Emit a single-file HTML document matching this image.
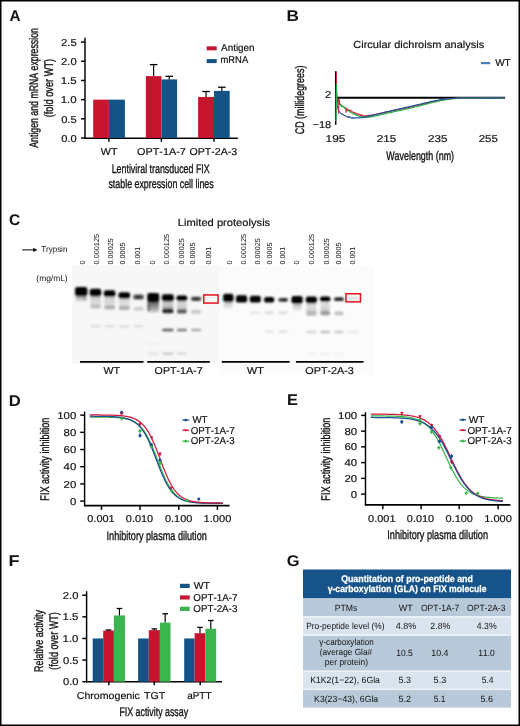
<!DOCTYPE html>
<html><head><meta charset="utf-8"><style>
html,body{margin:0;padding:0;background:#fff;}
svg{display:block;font-family:"Liberation Sans", sans-serif;will-change:transform;}
text{font-kerning:none;text-rendering:geometricPrecision;}
</style></head><body>
<svg width="520" height="726" viewBox="0 0 520 726" font-family='"Liberation Sans", sans-serif' fill="#111">
<defs><filter id="bl" x="-5%" y="-5%" width="110%" height="110%"><feGaussianBlur stdDeviation="0.85"/></filter></defs>
<rect x="0" y="0" width="520" height="726" fill="#fff"/>
<text x="9.62" y="20.5" font-size="15.5" textLength="11.09" lengthAdjust="spacingAndGlyphs" font-weight="bold">A</text>
<line x1="85.00" y1="37.80" x2="85.00" y2="138.60" stroke="#000" stroke-width="1.45"/>
<line x1="81.00" y1="42.10" x2="85.00" y2="42.10" stroke="#000" stroke-width="1.45"/>
<text x="61.03" y="45.9" font-size="10" textLength="15.64" lengthAdjust="spacingAndGlyphs" stroke="#111" stroke-width="0.18">2.5</text>
<line x1="81.00" y1="61.28" x2="85.00" y2="61.28" stroke="#000" stroke-width="1.45"/>
<text x="61.04" y="65.08" font-size="10" textLength="15.60" lengthAdjust="spacingAndGlyphs" stroke="#111" stroke-width="0.18">2.0</text>
<line x1="81.00" y1="80.46" x2="85.00" y2="80.46" stroke="#000" stroke-width="1.45"/>
<text x="60.73" y="84.26" font-size="10" textLength="15.96" lengthAdjust="spacingAndGlyphs" stroke="#111" stroke-width="0.18">1.5</text>
<line x1="81.00" y1="99.64" x2="85.00" y2="99.64" stroke="#000" stroke-width="1.45"/>
<text x="60.73" y="103.44" font-size="10" textLength="15.92" lengthAdjust="spacingAndGlyphs" stroke="#111" stroke-width="0.18">1.0</text>
<line x1="81.00" y1="118.82" x2="85.00" y2="118.82" stroke="#000" stroke-width="1.45"/>
<text x="61.16" y="122.62" font-size="10" textLength="15.50" lengthAdjust="spacingAndGlyphs" stroke="#111" stroke-width="0.18">0.5</text>
<line x1="81.00" y1="138.00" x2="85.00" y2="138.00" stroke="#000" stroke-width="1.45"/>
<text x="61.17" y="141.8" font-size="10" textLength="15.47" lengthAdjust="spacingAndGlyphs" stroke="#111" stroke-width="0.18">0.0</text>
<line x1="84.40" y1="138.20" x2="237.80" y2="138.20" stroke="#000" stroke-width="1.45"/>
<rect x="93.20" y="99.64" width="15.70" height="38.36" fill="#c8152f"/>
<rect x="108.90" y="99.64" width="16.00" height="38.36" fill="#135386"/>
<line x1="108.90" y1="138.00" x2="108.90" y2="141.80" stroke="#000" stroke-width="1.45"/>
<rect x="145.90" y="76.09" width="15.50" height="61.91" fill="#c8152f"/>
<rect x="161.40" y="79.39" width="15.70" height="58.61" fill="#135386"/>
<line x1="153.65" y1="64.60" x2="153.65" y2="76.09" stroke="#000" stroke-width="1.15"/>
<line x1="149.85" y1="64.60" x2="157.45" y2="64.60" stroke="#000" stroke-width="1.3"/>
<line x1="169.25" y1="76.30" x2="169.25" y2="79.39" stroke="#000" stroke-width="1.15"/>
<line x1="165.45" y1="76.30" x2="173.05" y2="76.30" stroke="#000" stroke-width="1.3"/>
<line x1="161.40" y1="138.00" x2="161.40" y2="141.80" stroke="#000" stroke-width="1.45"/>
<rect x="198.10" y="96.92" width="15.90" height="41.08" fill="#c8152f"/>
<rect x="214.00" y="90.89" width="15.70" height="47.11" fill="#135386"/>
<line x1="206.05" y1="91.50" x2="206.05" y2="96.92" stroke="#000" stroke-width="1.15"/>
<line x1="202.25" y1="91.50" x2="209.85" y2="91.50" stroke="#000" stroke-width="1.3"/>
<line x1="221.85" y1="87.20" x2="221.85" y2="90.89" stroke="#000" stroke-width="1.15"/>
<line x1="218.05" y1="87.20" x2="225.65" y2="87.20" stroke="#000" stroke-width="1.3"/>
<line x1="214.00" y1="138.00" x2="214.00" y2="141.80" stroke="#000" stroke-width="1.45"/>
<rect x="206.70" y="46.30" width="10.00" height="4.00" fill="#c8152f"/>
<rect x="206.70" y="59.10" width="10.00" height="4.00" fill="#135386"/>
<text x="221.08" y="51.3" font-size="10" textLength="33.46" lengthAdjust="spacingAndGlyphs" stroke="#111" stroke-width="0.18">Antigen</text>
<text x="220.47" y="63.4" font-size="10" textLength="27.74" lengthAdjust="spacingAndGlyphs" stroke="#111" stroke-width="0.18">mRNA</text>
<text x="100.75" y="154.6" font-size="10" textLength="16.69" lengthAdjust="spacingAndGlyphs" stroke="#111" stroke-width="0.18">WT</text>
<text x="136.99" y="154.6" font-size="10" textLength="48.86" lengthAdjust="spacingAndGlyphs" stroke="#111" stroke-width="0.18">OPT-1A-7</text>
<text x="189.40" y="154.6" font-size="10" textLength="47.87" lengthAdjust="spacingAndGlyphs" stroke="#111" stroke-width="0.18">OPT-2A-3</text>
<text x="111.67" y="172.8" font-size="12.5" textLength="98.01" lengthAdjust="spacingAndGlyphs" stroke="#111" stroke-width="0.35">Lentiviral transduced FIX</text>
<text x="108.45" y="188.2" font-size="12.5" textLength="105.27" lengthAdjust="spacingAndGlyphs" stroke="#111" stroke-width="0.35">stable expression cell lines</text>
<text transform="translate(37.5,147.72) rotate(-90)" font-size="12.5" textLength="119.59" lengthAdjust="spacingAndGlyphs" stroke="#111" stroke-width="0.35">Antigen and mRNA expression</text>
<text transform="translate(52.8,117.37) rotate(-90)" font-size="12.5" textLength="58.55" lengthAdjust="spacingAndGlyphs" stroke="#111" stroke-width="0.35">(fold over WT)</text>
<text x="286.55" y="20.5" font-size="15.5" textLength="12.43" lengthAdjust="spacingAndGlyphs" font-weight="bold">B</text>
<text x="353.24" y="48.3" font-size="10.3" textLength="130.96" lengthAdjust="spacingAndGlyphs" stroke="#111" stroke-width="0.18">Circular dichroism analysis</text>
<line x1="481.00" y1="63.10" x2="490.20" y2="63.10" stroke="#4a7fb5" stroke-width="2.2"/>
<text x="495.16" y="65.9" font-size="10" textLength="15.57" lengthAdjust="spacingAndGlyphs" stroke="#111" stroke-width="0.18">WT</text>
<line x1="335.70" y1="71.20" x2="335.70" y2="124.80" stroke="#000" stroke-width="1.5"/>
<line x1="336.50" y1="97.80" x2="505.10" y2="97.80" stroke="#000" stroke-width="2.0"/>
<text x="325.14" y="97.6" font-size="10" textLength="6.23" lengthAdjust="spacingAndGlyphs" stroke="#111" stroke-width="0.18">2</text>
<text x="312.45" y="127.6" font-size="10" textLength="18.83" lengthAdjust="spacingAndGlyphs" stroke="#111" stroke-width="0.18">−18</text>
<text x="325.60" y="142.2" font-size="10" textLength="19.80" lengthAdjust="spacingAndGlyphs" stroke="#111" stroke-width="0.18">195</text>
<text x="376.71" y="142.2" font-size="10" textLength="19.48" lengthAdjust="spacingAndGlyphs" stroke="#111" stroke-width="0.18">215</text>
<text x="427.91" y="142.2" font-size="10" textLength="19.48" lengthAdjust="spacingAndGlyphs" stroke="#111" stroke-width="0.18">235</text>
<text x="478.72" y="142.2" font-size="10" textLength="19.16" lengthAdjust="spacingAndGlyphs" stroke="#111" stroke-width="0.18">255</text>
<text x="386.16" y="160.0" font-size="12.5" textLength="67.89" lengthAdjust="spacingAndGlyphs" stroke="#111" stroke-width="0.35">Wavelength (nm)</text>
<text transform="translate(304.3,134.25) rotate(-90)" font-size="12.5" textLength="68.60" lengthAdjust="spacingAndGlyphs" stroke="#111" stroke-width="0.35">CD (millidegrees)</text>
<polyline points="337.00,100.07 337.50,99.82 338.00,99.86 338.50,99.15 339.00,101.96 339.50,103.07 340.00,103.89 340.50,104.72 341.00,105.00 341.50,105.16 342.00,106.14 342.50,106.01 343.00,106.32 343.50,106.47 344.00,107.23 344.50,107.35 345.00,107.89 345.50,107.79 346.00,108.34 346.50,108.29 347.00,109.19 347.50,109.27 348.00,109.62 348.50,109.91 349.00,109.67 349.50,110.56 350.00,111.06 350.50,110.40 351.00,110.64 351.50,110.96 352.00,111.81 352.50,111.86 353.00,112.32 353.50,112.46 354.00,112.55 354.50,112.80 355.00,112.91 355.50,113.39 356.00,113.12 356.50,113.48 357.00,113.84 357.50,114.41 358.00,113.96 358.50,114.07 359.00,114.38 359.50,114.95 360.00,114.84 360.50,115.34 361.00,114.66 361.50,115.52 362.00,115.61 362.50,115.11 363.00,115.61 363.50,115.99 364.00,115.82 364.50,116.05 365.00,116.39 365.50,115.87 366.00,115.73 366.50,115.61 367.00,115.96 367.50,115.75 368.00,115.76 368.50,115.69 369.00,115.79 369.50,115.27 370.00,115.27 370.50,115.07 371.00,115.42 371.50,115.20 372.00,115.28 372.50,115.00 373.00,114.81 373.50,114.85 374.00,114.68 374.50,114.44 375.00,114.38 375.50,114.59 376.00,114.32 376.50,114.22 377.00,114.04 377.50,113.89 378.00,113.97 378.50,113.75 379.00,113.57 379.50,113.54 380.00,113.35 380.50,113.38 381.00,113.39 381.50,113.05 382.00,113.22 382.50,112.86 383.00,112.86 383.50,112.64 384.00,112.61 384.50,112.54 385.00,112.38 385.50,112.24 386.00,112.14 386.50,112.02 387.00,111.83 387.50,111.88 388.00,111.86 388.50,111.82 389.00,111.68 389.50,111.80 390.00,111.44 390.50,111.24 391.00,111.41 391.50,110.96 392.00,111.10 392.50,110.76 393.00,110.81 393.50,110.43 394.00,110.67 394.50,110.44 395.00,110.23 395.50,110.45 396.00,110.23 396.50,110.04 397.00,109.84 397.50,109.82 398.00,109.70 398.50,109.70 399.00,109.61 399.50,109.32 400.00,109.23 400.50,109.13 401.00,108.93 401.50,108.91 402.00,108.87 402.50,108.86 403.00,108.83 403.50,108.47 404.00,108.53 404.50,108.30 405.00,108.50 405.50,108.14 406.00,108.10 406.50,107.82 407.00,107.73 407.50,107.75 408.00,107.57 408.50,107.56 409.00,107.22 409.50,107.38 410.00,107.09 410.50,107.29 411.00,106.94 411.50,106.99 412.00,106.57 412.50,106.68 413.00,106.40 413.50,106.34 414.00,106.28 414.50,106.13 415.00,106.08 415.50,106.02 416.00,105.90 416.50,105.69 417.00,105.43 417.50,105.38 418.00,105.34 418.50,104.99 419.00,105.22 419.50,104.99 420.00,104.87 420.50,104.89 421.00,104.73 421.50,104.55 422.00,104.28 422.50,104.31 423.00,104.19 423.50,103.92 424.00,104.03 424.50,103.84 425.00,103.41 425.50,103.54 426.00,103.25 426.50,103.41 427.00,103.25 427.50,102.89 428.00,102.79 428.50,102.79 429.00,102.62 429.50,102.71 430.00,102.49 430.50,102.26 431.00,102.26 431.50,101.84 432.00,102.02 432.50,101.98 433.00,101.75 433.50,101.58 434.00,101.63 434.50,101.69 435.00,101.37 435.50,101.11 436.00,101.31 436.50,100.81 437.00,100.99 437.50,100.76 438.00,100.83 438.50,100.51 439.00,100.67 439.50,100.44 440.00,100.09 440.50,99.98 441.00,100.10 441.50,100.22 442.00,100.00 442.50,99.91 443.00,99.79 443.50,99.83 444.00,99.71 444.50,99.61 445.00,99.38 445.50,99.56 446.00,99.50 446.50,99.10 447.00,99.46 447.50,99.19 448.00,98.96 448.50,98.71 449.00,98.94 449.50,98.85 450.00,98.68 450.50,98.59 451.00,98.67 451.50,98.57 452.00,98.54 452.50,98.64 453.00,98.58 453.50,98.49 454.00,98.40 454.50,98.41 455.00,98.26 455.50,98.32 456.00,98.25 456.50,98.19 457.00,98.15 457.50,98.20 458.00,98.14 458.50,98.11 459.00,98.10 459.50,98.00 460.00,97.95 460.50,97.93 461.00,97.98 461.50,98.02 462.00,97.99 462.50,98.01 463.00,97.94 463.50,97.97 464.00,97.95 464.50,97.93 465.00,98.05 465.50,98.01 466.00,97.94 466.50,97.94 467.00,97.97 467.50,97.91 468.00,97.98 468.50,97.91 469.00,97.95 469.50,97.92 470.00,97.94 470.50,97.90 471.00,97.89 471.50,97.91 472.00,97.92 472.50,97.93 473.00,97.94 473.50,98.00 474.00,97.97 474.50,97.93 475.00,97.96 475.50,97.90 476.00,97.99 476.50,97.95 477.00,97.87 477.50,97.95 478.00,97.95 478.50,97.81 479.00,97.89 479.50,97.89 480.00,97.83 480.50,97.87 481.00,97.87 481.50,97.92 482.00,97.91 482.50,98.01 483.00,97.88 483.50,97.94 484.00,97.90 484.50,97.90 485.00,97.84 485.50,97.81 486.00,97.85 486.50,97.91 487.00,97.94 487.50,97.90 488.00,97.90 488.50,97.84 489.00,97.93 489.50,97.92 490.00,97.85 490.50,97.86 491.00,97.82 491.50,97.92 492.00,97.87 492.50,97.85 493.00,97.87 493.50,97.87 494.00,97.83 494.50,97.80 495.00,97.79 495.50,97.77 496.00,97.86 496.50,97.93 497.00,97.77 497.50,97.84 498.00,97.85 498.50,97.79 499.00,97.83 499.50,97.78 500.00,97.87 500.50,97.80 501.00,97.82 501.50,97.84 502.00,97.80 502.50,97.74 503.00,97.79 503.50,97.84 504.00,97.80 504.50,97.81 505.00,97.76" fill="none" stroke="#d8203f" stroke-width="1.2" stroke-linejoin="round"/>
<polyline points="337.00,102.71 337.50,101.11 338.00,102.15 338.50,101.80 339.00,102.74 339.50,103.72 340.00,103.99 340.50,104.94 341.00,105.05 341.50,106.84 342.00,106.08 342.50,106.26 343.00,106.67 343.50,106.92 344.00,107.16 344.50,107.78 345.00,108.47 345.50,108.58 346.00,109.37 346.50,109.33 347.00,109.78 347.50,110.67 348.00,110.69 348.50,110.64 349.00,111.06 349.50,111.63 350.00,112.23 350.50,112.00 351.00,112.31 351.50,112.94 352.00,112.78 352.50,113.18 353.00,113.72 353.50,113.90 354.00,114.02 354.50,114.42 355.00,113.79 355.50,115.01 356.00,114.76 356.50,114.77 357.00,115.44 357.50,115.74 358.00,115.64 358.50,115.67 359.00,116.13 359.50,116.30 360.00,116.85 360.50,116.77 361.00,116.71 361.50,117.02 362.00,116.77 362.50,116.67 363.00,117.13 363.50,117.21 364.00,117.09 364.50,117.02 365.00,117.36 365.50,116.65 366.00,117.41 366.50,117.33 367.00,116.77 367.50,117.17 368.00,116.88 368.50,117.28 369.00,116.55 369.50,116.80 370.00,117.09 370.50,117.04 371.00,116.54 371.50,116.64 372.00,116.64 372.50,116.43 373.00,116.59 373.50,116.16 374.00,116.24 374.50,115.96 375.00,116.14 375.50,115.86 376.00,115.71 376.50,115.43 377.00,115.73 377.50,115.50 378.00,115.39 378.50,115.32 379.00,115.12 379.50,114.89 380.00,114.75 380.50,114.64 381.00,114.79 381.50,114.34 382.00,114.33 382.50,114.25 383.00,114.20 383.50,114.13 384.00,113.80 384.50,113.63 385.00,113.72 385.50,113.76 386.00,113.59 386.50,113.41 387.00,113.24 387.50,113.20 388.00,113.02 388.50,113.04 389.00,112.73 389.50,112.73 390.00,112.59 390.50,112.56 391.00,112.41 391.50,112.58 392.00,112.34 392.50,112.23 393.00,111.70 393.50,111.79 394.00,111.65 394.50,111.67 395.00,111.23 395.50,111.53 396.00,111.41 396.50,111.01 397.00,110.94 397.50,110.85 398.00,110.85 398.50,110.81 399.00,110.87 399.50,110.49 400.00,110.49 400.50,110.31 401.00,110.39 401.50,110.16 402.00,110.12 402.50,109.72 403.00,109.72 403.50,109.53 404.00,109.70 404.50,109.49 405.00,109.26 405.50,109.14 406.00,109.14 406.50,108.89 407.00,108.75 407.50,108.81 408.00,108.94 408.50,108.50 409.00,108.35 409.50,108.17 410.00,108.04 410.50,108.14 411.00,108.05 411.50,107.83 412.00,107.74 412.50,107.59 413.00,107.47 413.50,107.14 414.00,107.15 414.50,107.09 415.00,106.86 415.50,106.77 416.00,106.60 416.50,106.53 417.00,106.55 417.50,106.28 418.00,106.18 418.50,106.17 419.00,106.03 419.50,106.03 420.00,105.45 420.50,105.67 421.00,105.37 421.50,105.31 422.00,105.26 422.50,105.15 423.00,105.01 423.50,104.77 424.00,104.81 424.50,104.45 425.00,104.33 425.50,104.31 426.00,104.01 426.50,104.20 427.00,103.93 427.50,103.94 428.00,103.54 428.50,103.36 429.00,103.29 429.50,103.22 430.00,102.93 430.50,102.93 431.00,102.77 431.50,102.85 432.00,102.46 432.50,102.55 433.00,102.23 433.50,102.08 434.00,101.99 434.50,101.82 435.00,101.87 435.50,101.86 436.00,101.64 436.50,101.58 437.00,101.59 437.50,101.31 438.00,101.18 438.50,101.01 439.00,100.74 439.50,100.91 440.00,100.49 440.50,100.69 441.00,100.53 441.50,100.58 442.00,100.35 442.50,100.18 443.00,100.23 443.50,100.04 444.00,100.00 444.50,99.94 445.00,99.83 445.50,99.74 446.00,99.58 446.50,99.57 447.00,99.25 447.50,99.41 448.00,99.20 448.50,99.39 449.00,99.32 449.50,98.85 450.00,99.01 450.50,98.95 451.00,98.87 451.50,98.89 452.00,98.80 452.50,98.70 453.00,98.72 453.50,98.68 454.00,98.64 454.50,98.55 455.00,98.57 455.50,98.53 456.00,98.41 456.50,98.39 457.00,98.37 457.50,98.30 458.00,98.35 458.50,98.24 459.00,98.15 459.50,98.11 460.00,98.10 460.50,98.19 461.00,98.09 461.50,98.10 462.00,98.11 462.50,98.09 463.00,98.18 463.50,98.06 464.00,98.11 464.50,98.09 465.00,98.10 465.50,98.03 466.00,98.14 466.50,98.07 467.00,98.07 467.50,98.03 468.00,98.04 468.50,98.08 469.00,98.10 469.50,98.09 470.00,98.10 470.50,98.08 471.00,98.05 471.50,98.08 472.00,98.07 472.50,98.04 473.00,98.07 473.50,98.09 474.00,98.05 474.50,98.02 475.00,98.06 475.50,98.11 476.00,98.02 476.50,98.02 477.00,98.02 477.50,98.07 478.00,97.95 478.50,98.03 479.00,98.06 479.50,97.98 480.00,98.07 480.50,98.03 481.00,97.98 481.50,98.01 482.00,97.94 482.50,97.98 483.00,98.07 483.50,97.96 484.00,98.07 484.50,97.99 485.00,98.03 485.50,97.99 486.00,97.89 486.50,97.96 487.00,97.99 487.50,97.93 488.00,97.92 488.50,97.99 489.00,97.95 489.50,97.90 490.00,97.94 490.50,98.00 491.00,97.94 491.50,98.00 492.00,98.02 492.50,97.96 493.00,97.91 493.50,97.90 494.00,97.95 494.50,97.98 495.00,97.96 495.50,97.96 496.00,97.92 496.50,97.95 497.00,97.92 497.50,97.92 498.00,97.88 498.50,97.87 499.00,97.91 499.50,97.88 500.00,97.88 500.50,97.95 501.00,97.91 501.50,98.03 502.00,97.95 502.50,97.89 503.00,97.94 503.50,97.92 504.00,97.88 504.50,97.95 505.00,97.87" fill="none" stroke="#2db34a" stroke-width="1.2" stroke-linejoin="round"/>
<polyline points="337.00,106.12 337.50,106.29 338.00,108.12 338.50,109.54 339.00,111.15 339.50,111.82 340.00,112.31 340.50,113.08 341.00,113.38 341.50,113.73 342.00,114.01 342.50,114.49 343.00,114.34 343.50,114.84 344.00,115.03 344.50,115.71 345.00,115.81 345.50,115.91 346.00,115.96 346.50,116.36 347.00,116.67 347.50,116.79 348.00,117.55 348.50,117.54 349.00,116.33 349.50,116.70 350.00,117.41 350.50,117.43 351.00,117.68 351.50,117.77 352.00,118.33 352.50,117.55 353.00,117.76 353.50,118.39 354.00,118.06 354.50,118.09 355.00,117.82 355.50,117.56 356.00,118.04 356.50,118.00 357.00,117.64 357.50,117.75 358.00,117.88 358.50,117.64 359.00,117.83 359.50,117.85 360.00,117.81 360.50,117.60 361.00,117.80 361.50,117.80 362.00,117.58 362.50,117.23 363.00,117.55 363.50,117.17 364.00,117.45 364.50,116.90 365.00,117.33 365.50,116.98 366.00,116.57 366.50,116.69 367.00,116.67 367.50,116.62 368.00,116.19 368.50,116.05 369.00,116.27 369.50,115.99 370.00,116.03 370.50,115.97 371.00,115.55 371.50,115.66 372.00,115.65 372.50,115.34 373.00,115.15 373.50,115.22 374.00,115.03 374.50,114.98 375.00,114.71 375.50,114.45 376.00,114.49 376.50,114.32 377.00,114.34 377.50,114.15 378.00,113.80 378.50,113.73 379.00,113.86 379.50,113.71 380.00,113.42 380.50,113.37 381.00,113.30 381.50,113.18 382.00,113.11 382.50,112.91 383.00,112.74 383.50,112.59 384.00,112.63 384.50,112.10 385.00,112.23 385.50,112.13 386.00,111.83 386.50,111.91 387.00,111.67 387.50,111.73 388.00,111.48 388.50,111.46 389.00,111.40 389.50,111.17 390.00,110.89 390.50,110.71 391.00,110.99 391.50,110.65 392.00,110.47 392.50,110.45 393.00,110.30 393.50,110.31 394.00,110.10 394.50,109.99 395.00,109.79 395.50,109.82 396.00,109.53 396.50,109.62 397.00,109.61 397.50,109.13 398.00,108.90 398.50,109.16 399.00,109.28 399.50,108.74 400.00,108.60 400.50,108.71 401.00,108.42 401.50,108.35 402.00,108.26 402.50,108.25 403.00,108.03 403.50,108.00 404.00,107.83 404.50,107.64 405.00,107.59 405.50,107.40 406.00,107.40 406.50,107.15 407.00,107.04 407.50,107.24 408.00,106.94 408.50,106.83 409.00,106.79 409.50,106.56 410.00,106.47 410.50,106.44 411.00,106.30 411.50,106.02 412.00,106.14 412.50,105.85 413.00,105.68 413.50,105.59 414.00,105.53 414.50,105.66 415.00,105.21 415.50,105.25 416.00,104.86 416.50,105.00 417.00,105.00 417.50,104.75 418.00,104.58 418.50,104.57 419.00,104.51 419.50,104.39 420.00,104.44 420.50,104.11 421.00,103.89 421.50,103.82 422.00,103.71 422.50,103.61 423.00,103.48 423.50,103.38 424.00,103.04 424.50,103.22 425.00,102.93 425.50,102.74 426.00,102.84 426.50,102.80 427.00,102.58 427.50,102.42 428.00,102.17 428.50,102.50 429.00,102.15 429.50,101.78 430.00,101.71 430.50,101.71 431.00,101.41 431.50,101.52 432.00,101.34 432.50,101.45 433.00,101.32 433.50,100.77 434.00,101.01 434.50,100.71 435.00,100.93 435.50,100.72 436.00,100.67 436.50,100.37 437.00,100.62 437.50,100.54 438.00,100.07 438.50,100.14 439.00,99.92 439.50,99.90 440.00,99.65 440.50,99.96 441.00,99.55 441.50,99.57 442.00,99.60 442.50,99.40 443.00,99.38 443.50,99.28 444.00,99.26 444.50,99.07 445.00,99.10 445.50,99.06 446.00,98.98 446.50,98.96 447.00,98.85 447.50,98.92 448.00,98.72 448.50,98.68 449.00,98.55 449.50,98.50 450.00,98.45 450.50,98.50 451.00,98.40 451.50,98.40 452.00,98.41 452.50,98.39 453.00,98.33 453.50,98.24 454.00,98.32 454.50,98.29 455.00,98.19 455.50,98.26 456.00,98.17 456.50,98.13 457.00,98.15 457.50,98.12 458.00,98.11 458.50,98.01 459.00,98.12 459.50,98.00 460.00,97.94 460.50,98.02 461.00,97.98 461.50,98.01 462.00,97.98 462.50,97.99 463.00,98.00 463.50,97.95 464.00,98.01 464.50,97.96 465.00,97.94 465.50,97.98 466.00,97.99 466.50,97.96 467.00,97.93 467.50,97.99 468.00,97.89 468.50,97.92 469.00,97.96 469.50,97.90 470.00,97.96 470.50,97.95 471.00,97.99 471.50,97.91 472.00,97.92 472.50,97.96 473.00,97.84 473.50,98.06 474.00,97.91 474.50,97.91 475.00,97.97 475.50,97.93 476.00,97.86 476.50,97.95 477.00,97.96 477.50,97.90 478.00,97.91 478.50,97.94 479.00,97.88 479.50,97.93 480.00,97.92 480.50,97.88 481.00,97.85 481.50,97.90 482.00,97.87 482.50,97.94 483.00,97.90 483.50,97.93 484.00,97.90 484.50,97.90 485.00,97.86 485.50,97.91 486.00,97.96 486.50,97.87 487.00,97.86 487.50,97.87 488.00,97.86 488.50,97.85 489.00,97.88 489.50,97.86 490.00,97.92 490.50,97.86 491.00,97.88 491.50,97.90 492.00,97.85 492.50,97.91 493.00,97.83 493.50,97.82 494.00,97.83 494.50,97.84 495.00,97.79 495.50,97.84 496.00,97.77 496.50,97.89 497.00,97.83 497.50,97.81 498.00,97.79 498.50,97.81 499.00,97.82 499.50,97.78 500.00,97.79 500.50,97.81 501.00,97.80 501.50,97.85 502.00,97.86 502.50,97.81 503.00,97.83 503.50,97.75 504.00,97.83 504.50,97.80 505.00,97.82" fill="none" stroke="#1f4f9a" stroke-width="1.1" stroke-linejoin="round"/>
<polyline points="336.30,84.00 336.30,100.00 336.60,104.00 337.50,106.00" fill="none" stroke="#5a9ad0" stroke-width="1.0" stroke-linejoin="round"/>
<polyline points="336.30,71.50 336.50,90.00 337.50,99.60 338.50,113.50 339.00,100.00 339.40,99.60 339.60,105.00 340.00,104.50" fill="none" stroke="#d8203f" stroke-width="1.0" stroke-linejoin="round"/>
<polyline points="346.00,108.80 346.20,112.50 346.50,109.00" fill="none" stroke="#d8203f" stroke-width="1.0" stroke-linejoin="round"/>
<polyline points="336.60,84.00 336.30,100.00 336.00,121.00" fill="none" stroke="#2db34a" stroke-width="1.2" stroke-linejoin="round"/>
<text x="8.96" y="224.8" font-size="15.5" textLength="11.27" lengthAdjust="spacingAndGlyphs" font-weight="bold">C</text>
<text x="177.89" y="226.2" font-size="10.3" textLength="92.32" lengthAdjust="spacingAndGlyphs" stroke="#111" stroke-width="0.18">Limited proteolysis</text>
<line x1="22.20" y1="249.90" x2="34.50" y2="249.90" stroke="#000" stroke-width="1.0"/>
<path d="M33.2,247.7 L37.6,249.9 L33.2,252.1 Z" fill="#111"/>
<text x="41.22" y="252.1" font-size="8.3" textLength="26.10" lengthAdjust="spacingAndGlyphs">Trypsin</text>
<text x="36.38" y="281.4" font-size="8.3" textLength="31.24" lengthAdjust="spacingAndGlyphs">(mg/mL)</text>
<text transform="translate(84.6,264.49) rotate(-90)" font-size="7.3" textLength="4.07" lengthAdjust="spacingAndGlyphs">0</text>
<text transform="translate(98.5,264.49) rotate(-90)" font-size="7.3" textLength="30.59" lengthAdjust="spacingAndGlyphs">0.000125</text>
<text transform="translate(113.0,264.48) rotate(-90)" font-size="7.3" textLength="26.29" lengthAdjust="spacingAndGlyphs">0.00025</text>
<text transform="translate(124.6,264.48) rotate(-90)" font-size="7.3" textLength="22.09" lengthAdjust="spacingAndGlyphs">0.0005</text>
<text transform="translate(140.0,264.48) rotate(-90)" font-size="7.3" textLength="17.62" lengthAdjust="spacingAndGlyphs">0.001</text>
<text transform="translate(154.6,264.49) rotate(-90)" font-size="7.3" textLength="4.07" lengthAdjust="spacingAndGlyphs">0</text>
<text transform="translate(169.2,264.49) rotate(-90)" font-size="7.3" textLength="30.59" lengthAdjust="spacingAndGlyphs">0.000125</text>
<text transform="translate(183.8,264.48) rotate(-90)" font-size="7.3" textLength="26.29" lengthAdjust="spacingAndGlyphs">0.00025</text>
<text transform="translate(195.4,264.48) rotate(-90)" font-size="7.3" textLength="22.09" lengthAdjust="spacingAndGlyphs">0.0005</text>
<text transform="translate(210.8,264.48) rotate(-90)" font-size="7.3" textLength="17.62" lengthAdjust="spacingAndGlyphs">0.001</text>
<text transform="translate(232.3,264.49) rotate(-90)" font-size="7.3" textLength="4.07" lengthAdjust="spacingAndGlyphs">0</text>
<text transform="translate(246.2,264.49) rotate(-90)" font-size="7.3" textLength="30.59" lengthAdjust="spacingAndGlyphs">0.000125</text>
<text transform="translate(260.0,264.48) rotate(-90)" font-size="7.3" textLength="26.29" lengthAdjust="spacingAndGlyphs">0.00025</text>
<text transform="translate(271.8,264.48) rotate(-90)" font-size="7.3" textLength="22.09" lengthAdjust="spacingAndGlyphs">0.0005</text>
<text transform="translate(285.4,264.48) rotate(-90)" font-size="7.3" textLength="17.62" lengthAdjust="spacingAndGlyphs">0.001</text>
<text transform="translate(299.2,264.49) rotate(-90)" font-size="7.3" textLength="4.07" lengthAdjust="spacingAndGlyphs">0</text>
<text transform="translate(314.2,264.49) rotate(-90)" font-size="7.3" textLength="30.59" lengthAdjust="spacingAndGlyphs">0.000125</text>
<text transform="translate(328.5,264.48) rotate(-90)" font-size="7.3" textLength="26.29" lengthAdjust="spacingAndGlyphs">0.00025</text>
<text transform="translate(340.8,264.48) rotate(-90)" font-size="7.3" textLength="22.09" lengthAdjust="spacingAndGlyphs">0.0005</text>
<text transform="translate(355.4,264.48) rotate(-90)" font-size="7.3" textLength="17.62" lengthAdjust="spacingAndGlyphs">0.001</text>
<rect x="72.00" y="265.40" width="147.40" height="98.40" fill="#f7f7f7"/>
<rect x="219.40" y="266.00" width="154.60" height="108.40" fill="#fbfbfb"/>
<g filter="url(#bl)">
<linearGradient id="g93" x1="0" y1="0" x2="0" y2="1"><stop offset="0" stop-color="#909090"/><stop offset="1" stop-color="#e4e4e4"/></linearGradient>
<rect x="75.8" y="295.5" width="10.6" height="6.0" fill="url(#g93)"/>
<rect x="84.3" y="297.0" width="2.1" height="4.0" rx="1" fill="#999"/>
<rect x="75.1" y="286.9" width="12.3" height="9.3" rx="2.2" fill="#000"/>
<linearGradient id="g97" x1="0" y1="0" x2="0" y2="1"><stop offset="0" stop-color="#c8c8c8"/><stop offset="1" stop-color="#e2e2e2"/></linearGradient>
<rect x="90.3" y="296.0" width="10.5" height="9.0" fill="url(#g97)"/>
<rect x="90.3" y="304.6" width="10.5" height="3.6" rx="1.5" fill="#bdbdbd"/>
<rect x="89.8" y="288.8" width="11.4" height="7.7" rx="2.2" fill="#000"/>
<linearGradient id="g101" x1="0" y1="0" x2="0" y2="1"><stop offset="0" stop-color="#cfcfcf"/><stop offset="1" stop-color="#dedede"/></linearGradient>
<rect x="104.4" y="296.5" width="10.6" height="9.5" fill="url(#g101)"/>
<rect x="104.4" y="305.4" width="10.6" height="3.8" rx="1.5" fill="#acacac"/>
<rect x="103.9" y="290.2" width="11.5" height="6.8" rx="2.2" fill="#000"/>
<linearGradient id="g105" x1="0" y1="0" x2="0" y2="1"><stop offset="0" stop-color="#d5d5d5"/><stop offset="1" stop-color="#e0e0e0"/></linearGradient>
<rect x="119.0" y="298.0" width="10.6" height="8.0" fill="url(#g105)"/>
<rect x="119.0" y="305.8" width="10.6" height="4.2" rx="1.5" fill="#b0b0b0"/>
<rect x="118.5" y="292.3" width="11.6" height="6.5" rx="2.2" fill="#050505"/>
<rect x="133.2" y="294.6" width="10.7" height="4.8" rx="2" fill="#5a5a5a"/>
<rect x="135.5" y="295.8" width="6.1" height="2.8" rx="1.5" fill="#262626"/>
<rect x="133.6" y="306.9" width="9.9" height="3.5" rx="1.5" fill="#c9c9c9"/>
<rect x="90.3" y="325.4" width="10.5" height="1.8" rx="0.8" fill="#d2d2d2"/>
<rect x="104.4" y="325.4" width="10.6" height="1.8" rx="0.8" fill="#d2d2d2"/>
<rect x="119.0" y="325.4" width="10.6" height="1.8" rx="0.8" fill="#d2d2d2"/>
<rect x="133.6" y="325.4" width="9.9" height="1.8" rx="0.8" fill="#d2d2d2"/>
<linearGradient id="g116" x1="0" y1="0" x2="0" y2="1"><stop offset="0" stop-color="#505050"/><stop offset="1" stop-color="#d0d0d0"/></linearGradient>
<rect x="147.6" y="301.0" width="11.3" height="11.5" fill="url(#g116)"/>
<rect x="147.6" y="302.0" width="2.4" height="9.0" rx="1" fill="#666"/>
<rect x="147.3" y="293.1" width="11.9" height="9.2" rx="2.2" fill="#000"/>
<linearGradient id="g120" x1="0" y1="0" x2="0" y2="1"><stop offset="0" stop-color="#d4d4d4"/><stop offset="1" stop-color="#b0b0b0"/></linearGradient>
<rect x="162.3" y="301.0" width="11.1" height="8.0" fill="url(#g120)"/>
<rect x="162.3" y="308.6" width="11.1" height="4.7" rx="1.8" fill="#262626"/>
<rect x="161.9" y="294.2" width="11.9" height="7.3" rx="2.2" fill="#000"/>
<linearGradient id="g124" x1="0" y1="0" x2="0" y2="1"><stop offset="0" stop-color="#dedede"/><stop offset="1" stop-color="#c4c4c4"/></linearGradient>
<rect x="177.0" y="301.0" width="9.8" height="9.0" fill="url(#g124)"/>
<rect x="177.0" y="309.3" width="9.8" height="4.3" rx="1.8" fill="#5a5a5a"/>
<rect x="176.5" y="295.4" width="10.7" height="5.8" rx="2.2" fill="#000"/>
<rect x="191.2" y="309.8" width="9.9" height="4.1" rx="1.5" fill="#cacaca"/>
<rect x="190.8" y="296.8" width="10.7" height="4.1" rx="2" fill="#5a5a5a"/>
<rect x="192.5" y="297.5" width="7.3" height="2.7" rx="1.2" fill="#2a2a2a"/>
<rect x="162.3" y="328.8" width="11.1" height="2.4" rx="0.8" fill="#5a5a5a"/>
<rect x="177.0" y="328.8" width="9.8" height="2.4" rx="0.8" fill="#7a7a7a"/>
<rect x="191.2" y="328.8" width="9.9" height="2.4" rx="0.8" fill="#ababab"/>
<rect x="148.0" y="352.8" width="10.5" height="1.8" rx="0.8" fill="#dcdcdc"/>
<rect x="162.3" y="352.8" width="11.1" height="1.8" rx="0.8" fill="#bcbcbc"/>
<rect x="177.0" y="352.8" width="9.8" height="1.8" rx="0.8" fill="#cdcdcd"/>
<rect x="148.0" y="343.2" width="10.5" height="1.2" rx="0.5" fill="#e8e8e8"/>
<linearGradient id="g138" x1="0" y1="0" x2="0" y2="1"><stop offset="0" stop-color="#c4c4c4"/><stop offset="1" stop-color="#ececec"/></linearGradient>
<rect x="224.0" y="302.0" width="8.6" height="6.5" fill="url(#g138)"/>
<rect x="223.1" y="293.8" width="10.4" height="8.4" rx="2.2" fill="#000"/>
<rect x="236.0" y="295.3" width="11.1" height="7.3" rx="2.2" fill="#000"/>
<rect x="249.8" y="295.7" width="11.0" height="6.9" rx="2.2" fill="#000"/>
<rect x="264.1" y="297.1" width="10.1" height="5.5" rx="2.2" fill="#000"/>
<rect x="278.1" y="298.0" width="10.0" height="3.8" rx="1.8" fill="#4a4a4a"/>
<rect x="281.5" y="298.5" width="5.0" height="2.8" rx="1.2" fill="#111"/>
<rect x="250.3" y="311.4" width="10.0" height="2.6" rx="1" fill="#e3e3e3"/>
<rect x="264.6" y="311.4" width="9.1" height="2.6" rx="1" fill="#d8d8d8"/>
<rect x="278.6" y="311.4" width="9.0" height="2.6" rx="1" fill="#dadada"/>
<rect x="264.6" y="330.8" width="9.1" height="1.6" rx="0.8" fill="#dedede"/>
<rect x="278.6" y="330.8" width="9.0" height="1.6" rx="0.8" fill="#d6d6d6"/>
<linearGradient id="g151" x1="0" y1="0" x2="0" y2="1"><stop offset="0" stop-color="#b4b4b4"/><stop offset="1" stop-color="#ececec"/></linearGradient>
<rect x="293.0" y="303.5" width="8.5" height="7.0" fill="url(#g151)"/>
<rect x="291.5" y="296.1" width="11.2" height="7.7" rx="2.2" fill="#000"/>
<linearGradient id="g154" x1="0" y1="0" x2="0" y2="1"><stop offset="0" stop-color="#e0e0e0"/><stop offset="1" stop-color="#d2d2d2"/></linearGradient>
<rect x="306.3" y="303.0" width="10.1" height="8.5" fill="url(#g154)"/>
<rect x="306.3" y="311.0" width="10.1" height="4.7" rx="1.5" fill="#b6b6b6"/>
<rect x="305.8" y="296.5" width="11.1" height="6.9" rx="2.2" fill="#000"/>
<linearGradient id="g158" x1="0" y1="0" x2="0" y2="1"><stop offset="0" stop-color="#e4e4e4"/><stop offset="1" stop-color="#cacaca"/></linearGradient>
<rect x="320.5" y="302.0" width="9.4" height="9.5" fill="url(#g158)"/>
<rect x="320.5" y="311.0" width="9.4" height="4.3" rx="1.5" fill="#9a9a9a"/>
<rect x="320.0" y="296.5" width="10.4" height="5.5" rx="2.2" fill="#000"/>
<rect x="334.6" y="311.5" width="8.8" height="3.8" rx="1.5" fill="#bebebe"/>
<rect x="334.2" y="297.6" width="9.6" height="3.2" rx="1.6" fill="#080808"/>
<rect x="348.0" y="296.8" width="10.0" height="2.7" rx="1" fill="#dadada"/>
<rect x="306.3" y="330.9" width="10.1" height="1.8" rx="0.8" fill="#c8c8c8"/>
<rect x="320.5" y="330.9" width="9.4" height="1.8" rx="0.8" fill="#a8a8a8"/>
<rect x="334.6" y="330.9" width="8.8" height="1.8" rx="0.8" fill="#b4b4b4"/>
<rect x="348.0" y="330.9" width="10.0" height="1.8" rx="0.8" fill="#e2e2e2"/>
<rect x="306.3" y="353.2" width="10.1" height="1.4" rx="0.6" fill="#ececec"/>
<rect x="320.5" y="353.2" width="9.4" height="1.4" rx="0.6" fill="#e6e6e6"/>
<rect x="334.6" y="353.2" width="8.8" height="1.4" rx="0.6" fill="#ececec"/>
</g>
<rect x="203.75" y="294.95" width="14.3" height="8.1" fill="none" stroke="#e8101c" stroke-width="1.5"/>
<rect x="345.95" y="293.75" width="14.5" height="8.1" fill="none" stroke="#e8101c" stroke-width="1.5"/>
<line x1="80.00" y1="361.80" x2="143.50" y2="361.80" stroke="#000" stroke-width="1.8"/>
<line x1="147.30" y1="361.80" x2="209.80" y2="361.80" stroke="#000" stroke-width="1.8"/>
<line x1="221.80" y1="361.80" x2="289.60" y2="361.80" stroke="#000" stroke-width="1.8"/>
<line x1="295.90" y1="361.80" x2="363.50" y2="361.80" stroke="#000" stroke-width="1.8"/>
<text x="103.45" y="373.6" font-size="10" textLength="16.49" lengthAdjust="spacingAndGlyphs" stroke="#111" stroke-width="0.18">WT</text>
<text x="154.59" y="373.6" font-size="10" textLength="48.04" lengthAdjust="spacingAndGlyphs" stroke="#111" stroke-width="0.18">OPT-1A-7</text>
<text x="247.05" y="373.8" font-size="10" textLength="16.69" lengthAdjust="spacingAndGlyphs" stroke="#111" stroke-width="0.18">WT</text>
<text x="305.29" y="374.0" font-size="10" textLength="48.59" lengthAdjust="spacingAndGlyphs" stroke="#111" stroke-width="0.18">OPT-2A-3</text>
<text x="8.89" y="406.3" font-size="15.5" textLength="12.01" lengthAdjust="spacingAndGlyphs" font-weight="bold">D</text>
<line x1="84.60" y1="411.60" x2="84.60" y2="506.20" stroke="#000" stroke-width="1.45"/>
<line x1="80.20" y1="415.15" x2="84.60" y2="415.15" stroke="#000" stroke-width="1.45"/>
<text x="57.22" y="418.75" font-size="10" textLength="19.02" lengthAdjust="spacingAndGlyphs" stroke="#111" stroke-width="0.18">100</text>
<line x1="80.20" y1="432.34" x2="84.60" y2="432.34" stroke="#000" stroke-width="1.45"/>
<text x="63.57" y="435.94" font-size="10" textLength="12.68" lengthAdjust="spacingAndGlyphs" stroke="#111" stroke-width="0.18">80</text>
<line x1="80.20" y1="449.53" x2="84.60" y2="449.53" stroke="#000" stroke-width="1.45"/>
<text x="63.57" y="453.13" font-size="10" textLength="12.68" lengthAdjust="spacingAndGlyphs" stroke="#111" stroke-width="0.18">60</text>
<line x1="80.20" y1="466.72" x2="84.60" y2="466.72" stroke="#000" stroke-width="1.45"/>
<text x="63.57" y="470.32" font-size="10" textLength="12.68" lengthAdjust="spacingAndGlyphs" stroke="#111" stroke-width="0.18">40</text>
<line x1="80.20" y1="483.91" x2="84.60" y2="483.91" stroke="#000" stroke-width="1.45"/>
<text x="63.57" y="487.51" font-size="10" textLength="12.68" lengthAdjust="spacingAndGlyphs" stroke="#111" stroke-width="0.18">20</text>
<line x1="80.20" y1="501.10" x2="84.60" y2="501.10" stroke="#000" stroke-width="1.45"/>
<text x="69.91" y="504.7" font-size="10" textLength="6.34" lengthAdjust="spacingAndGlyphs" stroke="#111" stroke-width="0.18">0</text>
<line x1="84.00" y1="505.60" x2="229.50" y2="505.60" stroke="#000" stroke-width="1.6"/>
<line x1="101.50" y1="505.60" x2="101.50" y2="509.90" stroke="#000" stroke-width="1.45"/>
<text x="87.27" y="522.4" font-size="10" textLength="27.46" lengthAdjust="spacingAndGlyphs" stroke="#111" stroke-width="0.18">0.001</text>
<line x1="140.00" y1="505.60" x2="140.00" y2="509.90" stroke="#000" stroke-width="1.45"/>
<text x="125.82" y="522.4" font-size="10" textLength="27.35" lengthAdjust="spacingAndGlyphs" stroke="#111" stroke-width="0.18">0.010</text>
<line x1="178.80" y1="505.60" x2="178.80" y2="509.90" stroke="#000" stroke-width="1.45"/>
<text x="164.97" y="522.4" font-size="10" textLength="27.35" lengthAdjust="spacingAndGlyphs" stroke="#111" stroke-width="0.18">0.100</text>
<line x1="217.40" y1="505.60" x2="217.40" y2="509.90" stroke="#000" stroke-width="1.45"/>
<text x="203.60" y="522.4" font-size="10" textLength="27.78" lengthAdjust="spacingAndGlyphs" stroke="#111" stroke-width="0.18">1.000</text>
<polyline points="89.80,417.02 90.64,417.03 91.48,417.03 92.31,417.03 93.15,417.04 93.99,417.04 94.83,417.04 95.66,417.05 96.50,417.05 97.34,417.06 98.18,417.07 99.02,417.07 99.85,417.08 100.69,417.09 101.53,417.10 102.37,417.11 103.20,417.12 104.04,417.13 104.88,417.15 105.72,417.16 106.55,417.18 107.39,417.20 108.23,417.22 109.07,417.25 109.91,417.27 110.74,417.30 111.58,417.33 112.42,417.37 113.26,417.41 114.09,417.45 114.93,417.50 115.77,417.55 116.61,417.61 117.45,417.67 118.28,417.75 119.12,417.82 119.96,417.91 120.80,418.01 121.63,418.11 122.47,418.23 123.31,418.36 124.15,418.50 124.98,418.66 125.82,418.83 126.66,419.02 127.50,419.23 128.34,419.46 129.17,419.71 130.01,419.99 130.85,420.30 131.69,420.63 132.52,421.00 133.36,421.40 134.20,421.84 135.04,422.33 135.88,422.86 136.71,423.43 137.55,424.06 138.39,424.75 139.23,425.49 140.06,426.29 140.90,427.17 141.74,428.11 142.58,429.12 143.42,430.22 144.25,431.39 145.09,432.64 145.93,433.98 146.77,435.40 147.60,436.91 148.44,438.50 149.28,440.17 150.12,441.92 150.95,443.75 151.79,445.65 152.63,447.62 153.47,449.65 154.31,451.73 155.14,453.84 155.98,455.99 156.82,458.17 157.66,460.35 158.49,462.53 159.33,464.70 160.17,466.84 161.01,468.96 161.85,471.03 162.68,473.05 163.52,475.01 164.36,476.90 165.20,478.72 166.03,480.46 166.87,482.12 167.71,483.70 168.55,485.20 169.38,486.61 170.22,487.93 171.06,489.17 171.90,490.34 172.74,491.42 173.57,492.42 174.41,493.36 175.25,494.22 176.09,495.02 176.92,495.75 177.76,496.43 178.60,497.05 179.44,497.62 180.28,498.14 181.11,498.62 181.95,499.05 182.79,499.45 183.63,499.82 184.46,500.15 185.30,500.45 186.14,500.72 186.98,500.97 187.82,501.20 188.65,501.41 189.49,501.60 190.33,501.77 191.17,501.92 192.00,502.06 192.84,502.19 193.68,502.30 194.52,502.41 195.35,502.50 196.19,502.59 197.03,502.66 197.87,502.73 198.71,502.80 199.54,502.86 200.38,502.91 201.22,502.95 202.06,503.00 202.89,503.04 203.73,503.07 204.57,503.10 205.41,503.13 206.25,503.16 207.08,503.18 207.92,503.20 208.76,503.22 209.60,503.24 210.43,503.25 211.27,503.27 212.11,503.28 212.95,503.29 213.78,503.30 214.62,503.31 215.46,503.32 216.30,503.33 217.14,503.33 217.97,503.34 218.81,503.35 219.65,503.35 220.49,503.36 221.32,503.36 222.16,503.36 223.00,503.37" fill="none" stroke="#37b54a" stroke-width="1.25" stroke-linejoin="round"/>
<polyline points="89.80,416.23 90.64,416.23 91.48,416.23 92.31,416.24 93.15,416.24 93.99,416.25 94.83,416.25 95.66,416.26 96.50,416.26 97.34,416.27 98.18,416.28 99.02,416.29 99.85,416.29 100.69,416.30 101.53,416.32 102.37,416.33 103.20,416.34 104.04,416.36 104.88,416.37 105.72,416.39 106.55,416.41 107.39,416.44 108.23,416.46 109.07,416.49 109.91,416.52 110.74,416.55 111.58,416.59 112.42,416.63 113.26,416.68 114.09,416.73 114.93,416.78 115.77,416.84 116.61,416.91 117.45,416.99 118.28,417.07 119.12,417.16 119.96,417.26 120.80,417.37 121.63,417.50 122.47,417.63 123.31,417.78 124.15,417.94 124.98,418.13 125.82,418.33 126.66,418.55 127.50,418.79 128.34,419.05 129.17,419.35 130.01,419.67 130.85,420.02 131.69,420.41 132.52,420.83 133.36,421.30 134.20,421.80 135.04,422.36 135.88,422.96 136.71,423.62 137.55,424.33 138.39,425.11 139.23,425.95 140.06,426.86 140.90,427.85 141.74,428.91 142.58,430.04 143.42,431.26 144.25,432.56 145.09,433.95 145.93,435.42 146.77,436.98 147.60,438.62 148.44,440.34 149.28,442.15 150.12,444.03 150.95,445.97 151.79,447.99 152.63,450.06 153.47,452.17 154.31,454.32 155.14,456.51 155.98,458.70 156.82,460.91 157.66,463.10 158.49,465.29 159.33,467.44 160.17,469.55 161.01,471.62 161.85,473.64 162.68,475.58 163.52,477.46 164.36,479.27 165.20,480.99 166.03,482.63 166.87,484.19 167.71,485.66 168.55,487.05 169.38,488.35 170.22,489.57 171.06,490.70 171.90,491.76 172.74,492.75 173.57,493.66 174.41,494.50 175.25,495.28 176.09,495.99 176.92,496.65 177.76,497.25 178.60,497.81 179.44,498.31 180.28,498.78 181.11,499.20 181.95,499.59 182.79,499.94 183.63,500.26 184.46,500.56 185.30,500.82 186.14,501.06 186.98,501.28 187.82,501.48 188.65,501.67 189.49,501.83 190.33,501.98 191.17,502.11 192.00,502.24 192.84,502.35 193.68,502.45 194.52,502.54 195.35,502.62 196.19,502.70 197.03,502.77 197.87,502.83 198.71,502.88 199.54,502.93 200.38,502.98 201.22,503.02 202.06,503.06 202.89,503.09 203.73,503.12 204.57,503.15 205.41,503.17 206.25,503.20 207.08,503.22 207.92,503.24 208.76,503.25 209.60,503.27 210.43,503.28 211.27,503.29 212.11,503.31 212.95,503.32 213.78,503.32 214.62,503.33 215.46,503.34 216.30,503.35 217.14,503.35 217.97,503.36 218.81,503.36 219.65,503.37 220.49,503.37 221.32,503.38 222.16,503.38 223.00,503.38" fill="none" stroke="#1c4f95" stroke-width="1.25" stroke-linejoin="round"/>
<polyline points="89.80,414.95 90.64,414.95 91.48,414.95 92.31,414.95 93.15,414.96 93.99,414.96 94.83,414.96 95.66,414.97 96.50,414.97 97.34,414.97 98.18,414.98 99.02,414.98 99.85,414.99 100.69,415.00 101.53,415.00 102.37,415.01 103.20,415.02 104.04,415.03 104.88,415.04 105.72,415.05 106.55,415.07 107.39,415.08 108.23,415.10 109.07,415.11 109.91,415.13 110.74,415.15 111.58,415.18 112.42,415.21 113.26,415.23 114.09,415.27 114.93,415.30 115.77,415.34 116.61,415.39 117.45,415.43 118.28,415.49 119.12,415.55 119.96,415.61 120.80,415.68 121.63,415.76 122.47,415.85 123.31,415.95 124.15,416.05 124.98,416.17 125.82,416.30 126.66,416.45 127.50,416.61 128.34,416.78 129.17,416.97 130.01,417.19 130.85,417.42 131.69,417.68 132.52,417.96 133.36,418.27 134.20,418.61 135.04,418.98 135.88,419.39 136.71,419.84 137.55,420.33 138.39,420.87 139.23,421.46 140.06,422.10 140.90,422.79 141.74,423.55 142.58,424.37 143.42,425.26 144.25,426.22 145.09,427.25 145.93,428.36 146.77,429.56 147.60,430.84 148.44,432.20 149.28,433.65 150.12,435.19 150.95,436.81 151.79,438.52 152.63,440.31 153.47,442.17 154.31,444.12 155.14,446.13 155.98,448.20 156.82,450.32 157.66,452.48 158.49,454.68 159.33,456.90 160.17,459.13 161.01,461.36 161.85,463.57 162.68,465.77 163.52,467.93 164.36,470.04 165.20,472.11 166.03,474.11 166.87,476.04 167.71,477.90 168.55,479.68 169.38,481.38 170.22,482.99 171.06,484.52 171.90,485.96 172.74,487.31 173.57,488.58 174.41,489.76 175.25,490.87 176.09,491.89 176.92,492.84 177.76,493.72 178.60,494.53 179.44,495.28 180.28,495.97 181.11,496.60 181.95,497.18 182.79,497.72 183.63,498.20 184.46,498.65 185.30,499.05 186.14,499.42 186.98,499.76 187.82,500.07 188.65,500.35 189.49,500.60 190.33,500.83 191.17,501.04 192.00,501.23 192.84,501.40 193.68,501.56 194.52,501.70 195.35,501.83 196.19,501.95 197.03,502.05 197.87,502.15 198.71,502.24 199.54,502.32 200.38,502.39 201.22,502.45 202.06,502.51 202.89,502.56 203.73,502.61 204.57,502.65 205.41,502.69 206.25,502.73 207.08,502.76 207.92,502.79 208.76,502.81 209.60,502.84 210.43,502.86 211.27,502.88 212.11,502.90 212.95,502.91 213.78,502.93 214.62,502.94 215.46,502.95 216.30,502.96 217.14,502.97 217.97,502.98 218.81,502.99 219.65,502.99 220.49,503.00 221.32,503.01 222.16,503.01 223.00,503.02" fill="none" stroke="#d4163d" stroke-width="1.25" stroke-linejoin="round"/>
<line x1="121.60" y1="410.80" x2="121.60" y2="413.80" stroke="#1c4f95" stroke-width="1.0"/>
<circle cx="121.6" cy="412.3" r="1.60" fill="#1c4f95"/>
<line x1="121.60" y1="412.80" x2="121.60" y2="415.20" stroke="#d4163d" stroke-width="1.0"/>
<path d="M119.80,412.80 L123.40,412.80 L121.60,415.80 Z" fill="#d4163d"/>
<line x1="121.60" y1="417.30" x2="121.60" y2="419.70" stroke="#37b54a" stroke-width="1.0"/>
<path d="M119.90,418.50 L123.30,418.50 M121.60,416.80 L121.60,420.20" stroke="#37b54a" stroke-width="1.3"/>
<line x1="140.00" y1="422.70" x2="140.00" y2="425.70" stroke="#d4163d" stroke-width="1.0"/>
<path d="M138.20,423.00 L141.80,423.00 L140.00,426.00 Z" fill="#d4163d"/>
<line x1="140.00" y1="429.50" x2="140.00" y2="432.50" stroke="#37b54a" stroke-width="1.0"/>
<path d="M138.30,431.00 L141.70,431.00 M140.00,429.30 L140.00,432.70" stroke="#37b54a" stroke-width="1.3"/>
<line x1="140.00" y1="433.30" x2="140.00" y2="437.70" stroke="#1c4f95" stroke-width="1.0"/>
<circle cx="140" cy="435.5" r="1.60" fill="#1c4f95"/>
<line x1="151.60" y1="436.30" x2="151.60" y2="439.30" stroke="#d4163d" stroke-width="1.0"/>
<path d="M149.80,436.60 L153.40,436.60 L151.60,439.60 Z" fill="#d4163d"/>
<line x1="151.30" y1="444.50" x2="151.30" y2="447.50" stroke="#37b54a" stroke-width="1.0"/>
<path d="M149.60,446.00 L153.00,446.00 M151.30,444.30 L151.30,447.70" stroke="#37b54a" stroke-width="1.3"/>
<line x1="151.30" y1="443.50" x2="151.30" y2="445.50" stroke="#1c4f95" stroke-width="1.0"/>
<circle cx="151.3" cy="444.5" r="1.60" fill="#1c4f95"/>
<line x1="160.00" y1="452.00" x2="160.00" y2="456.00" stroke="#d4163d" stroke-width="1.0"/>
<path d="M158.20,452.80 L161.80,452.80 L160.00,455.80 Z" fill="#d4163d"/>
<line x1="160.00" y1="458.50" x2="160.00" y2="461.50" stroke="#1c4f95" stroke-width="1.0"/>
<circle cx="160" cy="460" r="1.60" fill="#1c4f95"/>
<line x1="160.30" y1="461.80" x2="160.30" y2="464.20" stroke="#37b54a" stroke-width="1.0"/>
<path d="M158.60,463.00 L162.00,463.00 M160.30,461.30 L160.30,464.70" stroke="#37b54a" stroke-width="1.3"/>
<line x1="171.20" y1="486.80" x2="171.20" y2="489.20" stroke="#d4163d" stroke-width="1.0"/>
<path d="M169.40,486.80 L173.00,486.80 L171.20,489.80 Z" fill="#d4163d"/>
<line x1="171.60" y1="489.80" x2="171.60" y2="492.20" stroke="#37b54a" stroke-width="1.0"/>
<path d="M169.90,491.00 L173.30,491.00 M171.60,489.30 L171.60,492.70" stroke="#37b54a" stroke-width="1.3"/>
<line x1="186.90" y1="499.50" x2="186.90" y2="501.50" stroke="#37b54a" stroke-width="1.0"/>
<path d="M185.20,500.50 L188.60,500.50 M186.90,498.80 L186.90,502.20" stroke="#37b54a" stroke-width="1.3"/>
<line x1="198.80" y1="497.80" x2="198.80" y2="500.20" stroke="#1c4f95" stroke-width="1.0"/>
<circle cx="198.8" cy="499" r="1.60" fill="#1c4f95"/>
<line x1="182.40" y1="420.10" x2="189.10" y2="420.10" stroke="#1c4f95" stroke-width="1.3"/>
<circle cx="185.70000000000002" cy="420.1" r="1.36" fill="#1c4f95"/>
<text x="192.46" y="422.8" font-size="10" textLength="15.06" lengthAdjust="spacingAndGlyphs" stroke="#111" stroke-width="0.18">WT</text>
<line x1="182.40" y1="430.20" x2="189.10" y2="430.20" stroke="#d4163d" stroke-width="1.3"/>
<path d="M184.17,429.18 L187.23,429.18 L185.70,431.73 Z" fill="#d4163d"/>
<text x="190.74" y="433.6" font-size="10" textLength="43.95" lengthAdjust="spacingAndGlyphs" stroke="#111" stroke-width="0.18">OPT-1A-7</text>
<line x1="182.40" y1="441.20" x2="189.10" y2="441.20" stroke="#37b54a" stroke-width="1.3"/>
<path d="M184.26,441.20 L187.15,441.20 M185.70,439.75 L185.70,442.64" stroke="#37b54a" stroke-width="1.3"/>
<text x="190.74" y="444.3" font-size="10" textLength="43.89" lengthAdjust="spacingAndGlyphs" stroke="#111" stroke-width="0.18">OPT-2A-3</text>
<text transform="translate(49.1,500.65) rotate(-90)" font-size="12.5" textLength="83.04" lengthAdjust="spacingAndGlyphs" stroke="#111" stroke-width="0.35">FIX activity inhibition</text>
<text x="106.56" y="540.0" font-size="12.5" textLength="100.23" lengthAdjust="spacingAndGlyphs" stroke="#111" stroke-width="0.35">Inhibitory plasma dilution</text>
<text x="286.90" y="405.1" font-size="15.5" textLength="10.94" lengthAdjust="spacingAndGlyphs" font-weight="bold">E</text>
<line x1="365.50" y1="412.20" x2="365.50" y2="505.50" stroke="#000" stroke-width="1.45"/>
<line x1="361.10" y1="415.40" x2="365.50" y2="415.40" stroke="#000" stroke-width="1.45"/>
<text x="338.12" y="419.0" font-size="10" textLength="19.02" lengthAdjust="spacingAndGlyphs" stroke="#111" stroke-width="0.18">100</text>
<line x1="361.10" y1="431.14" x2="365.50" y2="431.14" stroke="#000" stroke-width="1.45"/>
<text x="344.47" y="434.74" font-size="10" textLength="12.68" lengthAdjust="spacingAndGlyphs" stroke="#111" stroke-width="0.18">80</text>
<line x1="361.10" y1="446.88" x2="365.50" y2="446.88" stroke="#000" stroke-width="1.45"/>
<text x="344.47" y="450.48" font-size="10" textLength="12.68" lengthAdjust="spacingAndGlyphs" stroke="#111" stroke-width="0.18">60</text>
<line x1="361.10" y1="462.62" x2="365.50" y2="462.62" stroke="#000" stroke-width="1.45"/>
<text x="344.47" y="466.22" font-size="10" textLength="12.68" lengthAdjust="spacingAndGlyphs" stroke="#111" stroke-width="0.18">40</text>
<line x1="361.10" y1="478.36" x2="365.50" y2="478.36" stroke="#000" stroke-width="1.45"/>
<text x="344.47" y="481.96" font-size="10" textLength="12.68" lengthAdjust="spacingAndGlyphs" stroke="#111" stroke-width="0.18">20</text>
<line x1="361.10" y1="494.10" x2="365.50" y2="494.10" stroke="#000" stroke-width="1.45"/>
<text x="350.81" y="497.7" font-size="10" textLength="6.34" lengthAdjust="spacingAndGlyphs" stroke="#111" stroke-width="0.18">0</text>
<line x1="364.90" y1="504.90" x2="510.40" y2="504.90" stroke="#000" stroke-width="1.6"/>
<line x1="382.80" y1="504.90" x2="382.80" y2="509.20" stroke="#000" stroke-width="1.45"/>
<text x="368.12" y="521.7" font-size="10" textLength="27.36" lengthAdjust="spacingAndGlyphs" stroke="#111" stroke-width="0.18">0.001</text>
<line x1="421.10" y1="504.90" x2="421.10" y2="509.20" stroke="#000" stroke-width="1.45"/>
<text x="406.87" y="521.7" font-size="10" textLength="27.25" lengthAdjust="spacingAndGlyphs" stroke="#111" stroke-width="0.18">0.010</text>
<line x1="459.20" y1="504.90" x2="459.20" y2="509.20" stroke="#000" stroke-width="1.45"/>
<text x="445.62" y="521.7" font-size="10" textLength="27.25" lengthAdjust="spacingAndGlyphs" stroke="#111" stroke-width="0.18">0.100</text>
<line x1="498.10" y1="504.90" x2="498.10" y2="509.20" stroke="#000" stroke-width="1.45"/>
<text x="484.21" y="521.7" font-size="10" textLength="27.67" lengthAdjust="spacingAndGlyphs" stroke="#111" stroke-width="0.18">1.000</text>
<polyline points="370.80,415.91 371.63,415.91 372.46,415.91 373.29,415.92 374.12,415.92 374.95,415.92 375.78,415.93 376.62,415.93 377.45,415.94 378.28,415.94 379.11,415.95 379.94,415.95 380.77,415.96 381.60,415.97 382.43,415.97 383.26,415.98 384.09,415.99 384.92,416.00 385.75,416.01 386.59,416.03 387.42,416.04 388.25,416.06 389.08,416.07 389.91,416.09 390.74,416.11 391.57,416.13 392.40,416.15 393.23,416.18 394.06,416.21 394.89,416.23 395.72,416.27 396.56,416.30 397.39,416.34 398.22,416.38 399.05,416.43 399.88,416.48 400.71,416.54 401.54,416.60 402.37,416.66 403.20,416.73 404.03,416.81 404.86,416.89 405.69,416.99 406.53,417.09 407.36,417.20 408.19,417.32 409.02,417.45 409.85,417.59 410.68,417.74 411.51,417.91 412.34,418.09 413.17,418.29 414.00,418.50 414.83,418.74 415.66,418.99 416.49,419.27 417.33,419.56 418.16,419.89 418.99,420.24 419.82,420.62 420.65,421.03 421.48,421.47 422.31,421.94 423.14,422.46 423.97,423.01 424.80,423.61 425.63,424.25 426.46,424.94 427.30,425.67 428.13,426.46 428.96,427.30 429.79,428.19 430.62,429.15 431.45,430.16 432.28,431.23 433.11,432.36 433.94,433.56 434.77,434.81 435.60,436.13 436.43,437.50 437.27,438.94 438.10,440.43 438.93,441.98 439.76,443.58 440.59,445.22 441.42,446.91 442.25,448.63 443.08,450.39 443.91,452.17 444.74,453.97 445.57,455.78 446.40,457.59 447.24,459.41 448.07,461.21 448.90,463.00 449.73,464.77 450.56,466.51 451.39,468.21 452.22,469.87 453.05,471.49 453.88,473.06 454.71,474.58 455.54,476.04 456.37,477.44 457.21,478.78 458.04,480.07 458.87,481.29 459.70,482.44 460.53,483.54 461.36,484.58 462.19,485.56 463.02,486.48 463.85,487.34 464.68,488.15 465.51,488.91 466.34,489.62 467.17,490.28 468.01,490.89 468.84,491.46 469.67,492.00 470.50,492.49 471.33,492.95 472.16,493.37 472.99,493.76 473.82,494.12 474.65,494.46 475.48,494.77 476.31,495.05 477.14,495.31 477.98,495.56 478.81,495.78 479.64,495.98 480.47,496.17 481.30,496.35 482.13,496.51 482.96,496.65 483.79,496.79 484.62,496.91 485.45,497.03 486.28,497.13 487.11,497.23 487.95,497.31 488.78,497.39 489.61,497.47 490.44,497.54 491.27,497.60 492.10,497.66 492.93,497.71 493.76,497.76 494.59,497.80 495.42,497.84 496.25,497.88 497.08,497.91 497.92,497.94 498.75,497.97 499.58,498.00 500.41,498.02 501.24,498.04 502.07,498.06 502.90,498.08" fill="none" stroke="#37b54a" stroke-width="1.25" stroke-linejoin="round"/>
<polyline points="370.80,414.13 371.63,414.14 372.46,414.14 373.29,414.14 374.12,414.15 374.95,414.15 375.78,414.15 376.62,414.16 377.45,414.16 378.28,414.17 379.11,414.17 379.94,414.18 380.77,414.19 381.60,414.20 382.43,414.20 383.26,414.21 384.09,414.22 384.92,414.23 385.75,414.24 386.59,414.26 387.42,414.27 388.25,414.28 389.08,414.30 389.91,414.32 390.74,414.33 391.57,414.35 392.40,414.38 393.23,414.40 394.06,414.42 394.89,414.45 395.72,414.48 396.56,414.51 397.39,414.55 398.22,414.59 399.05,414.63 399.88,414.67 400.71,414.72 401.54,414.78 402.37,414.83 403.20,414.90 404.03,414.96 404.86,415.04 405.69,415.11 406.53,415.20 407.36,415.29 408.19,415.39 409.02,415.50 409.85,415.62 410.68,415.75 411.51,415.88 412.34,416.03 413.17,416.19 414.00,416.37 414.83,416.55 415.66,416.76 416.49,416.98 417.33,417.21 418.16,417.47 418.99,417.74 419.82,418.04 420.65,418.36 421.48,418.70 422.31,419.07 423.14,419.47 423.97,419.90 424.80,420.36 425.63,420.85 426.46,421.38 427.30,421.95 428.13,422.55 428.96,423.20 429.79,423.88 430.62,424.62 431.45,425.40 432.28,426.23 433.11,427.11 433.94,428.04 434.77,429.03 435.60,430.07 436.43,431.16 437.27,432.32 438.10,433.52 438.93,434.79 439.76,436.11 440.59,437.48 441.42,438.91 442.25,440.38 443.08,441.91 443.91,443.48 444.74,445.10 445.57,446.75 446.40,448.44 447.24,450.15 448.07,451.89 448.90,453.65 449.73,455.43 450.56,457.21 451.39,458.99 452.22,460.77 453.05,462.53 453.88,464.29 454.71,466.01 455.54,467.72 456.37,469.39 457.21,471.02 458.04,472.61 458.87,474.16 459.70,475.66 460.53,477.12 461.36,478.52 462.19,479.86 463.02,481.15 463.85,482.39 464.68,483.56 465.51,484.69 466.34,485.75 467.17,486.77 468.01,487.72 468.84,488.63 469.67,489.48 470.50,490.29 471.33,491.04 472.16,491.76 472.99,492.42 473.82,493.05 474.65,493.63 475.48,494.18 476.31,494.69 477.14,495.16 477.98,495.60 478.81,496.02 479.64,496.40 480.47,496.76 481.30,497.09 482.13,497.40 482.96,497.68 483.79,497.95 484.62,498.19 485.45,498.42 486.28,498.63 487.11,498.82 487.95,499.01 488.78,499.17 489.61,499.33 490.44,499.47 491.27,499.60 492.10,499.72 492.93,499.84 493.76,499.94 494.59,500.04 495.42,500.13 496.25,500.21 497.08,500.28 497.92,500.35 498.75,500.42 499.58,500.48 500.41,500.53 501.24,500.58 502.07,500.63 502.90,500.67" fill="none" stroke="#d4163d" stroke-width="1.25" stroke-linejoin="round"/>
<polyline points="370.80,417.49 371.63,417.49 372.46,417.49 373.29,417.49 374.12,417.50 374.95,417.50 375.78,417.51 376.62,417.51 377.45,417.52 378.28,417.52 379.11,417.53 379.94,417.54 380.77,417.54 381.60,417.55 382.43,417.56 383.26,417.57 384.09,417.58 384.92,417.59 385.75,417.60 386.59,417.61 387.42,417.63 388.25,417.64 389.08,417.66 389.91,417.67 390.74,417.69 391.57,417.71 392.40,417.73 393.23,417.76 394.06,417.78 394.89,417.81 395.72,417.84 396.56,417.88 397.39,417.91 398.22,417.95 399.05,417.99 399.88,418.04 400.71,418.09 401.54,418.14 402.37,418.20 403.20,418.26 404.03,418.33 404.86,418.40 405.69,418.48 406.53,418.56 407.36,418.65 408.19,418.75 409.02,418.86 409.85,418.98 410.68,419.11 411.51,419.24 412.34,419.39 413.17,419.55 414.00,419.72 414.83,419.90 415.66,420.10 416.49,420.32 417.33,420.55 418.16,420.80 418.99,421.07 419.82,421.36 420.65,421.68 421.48,422.01 422.31,422.37 423.14,422.76 423.97,423.18 424.80,423.62 425.63,424.10 426.46,424.61 427.30,425.16 428.13,425.75 428.96,426.37 429.79,427.03 430.62,427.74 431.45,428.49 432.28,429.29 433.11,430.14 433.94,431.03 434.77,431.98 435.60,432.98 436.43,434.03 437.27,435.13 438.10,436.28 438.93,437.49 439.76,438.75 440.59,440.06 441.42,441.42 442.25,442.83 443.08,444.29 443.91,445.79 444.74,447.33 445.57,448.91 446.40,450.52 447.24,452.16 448.07,453.82 448.90,455.50 449.73,457.19 450.56,458.90 451.39,460.60 452.22,462.30 453.05,464.00 453.88,465.68 454.71,467.34 455.54,468.98 456.37,470.58 457.21,472.16 458.04,473.70 458.87,475.19 459.70,476.65 460.53,478.06 461.36,479.41 462.19,480.72 463.02,481.98 463.85,483.18 464.68,484.34 465.51,485.44 466.34,486.48 467.17,487.48 468.01,488.42 468.84,489.31 469.67,490.16 470.50,490.95 471.33,491.70 472.16,492.41 472.99,493.07 473.82,493.69 474.65,494.27 475.48,494.82 476.31,495.33 477.14,495.80 477.98,496.25 478.81,496.66 479.64,497.05 480.47,497.41 481.30,497.74 482.13,498.05 482.96,498.34 483.79,498.61 484.62,498.86 485.45,499.09 486.28,499.31 487.11,499.51 487.95,499.69 488.78,499.86 489.61,500.02 490.44,500.17 491.27,500.30 492.10,500.43 492.93,500.54 493.76,500.65 494.59,500.75 495.42,500.84 496.25,500.93 497.08,501.01 497.92,501.08 498.75,501.15 499.58,501.21 500.41,501.26 501.24,501.32 502.07,501.37 502.90,501.41" fill="none" stroke="#1c4f95" stroke-width="1.25" stroke-linejoin="round"/>
<line x1="401.80" y1="411.80" x2="401.80" y2="414.80" stroke="#d4163d" stroke-width="1.0"/>
<path d="M400.00,412.10 L403.60,412.10 L401.80,415.10 Z" fill="#d4163d"/>
<line x1="401.80" y1="415.30" x2="401.80" y2="417.70" stroke="#37b54a" stroke-width="1.0"/>
<path d="M400.10,416.50 L403.50,416.50 M401.80,414.80 L401.80,418.20" stroke="#37b54a" stroke-width="1.3"/>
<line x1="401.80" y1="419.80" x2="401.80" y2="423.80" stroke="#1c4f95" stroke-width="1.0"/>
<circle cx="401.8" cy="421.8" r="1.60" fill="#1c4f95"/>
<line x1="420.00" y1="415.00" x2="420.00" y2="418.00" stroke="#d4163d" stroke-width="1.0"/>
<path d="M418.20,415.30 L421.80,415.30 L420.00,418.30 Z" fill="#d4163d"/>
<line x1="420.00" y1="418.70" x2="420.00" y2="421.10" stroke="#37b54a" stroke-width="1.0"/>
<path d="M418.30,419.90 L421.70,419.90 M420.00,418.20 L420.00,421.60" stroke="#37b54a" stroke-width="1.3"/>
<line x1="420.00" y1="422.50" x2="420.00" y2="424.90" stroke="#37b54a" stroke-width="1.0"/>
<path d="M418.30,423.70 L421.70,423.70 M420.00,422.00 L420.00,425.40" stroke="#37b54a" stroke-width="1.3"/>
<line x1="431.50" y1="423.70" x2="431.50" y2="426.70" stroke="#d4163d" stroke-width="1.0"/>
<path d="M429.70,424.00 L433.30,424.00 L431.50,427.00 Z" fill="#d4163d"/>
<line x1="431.50" y1="425.80" x2="431.50" y2="428.20" stroke="#1c4f95" stroke-width="1.0"/>
<circle cx="431.5" cy="427" r="1.60" fill="#1c4f95"/>
<line x1="431.50" y1="430.50" x2="431.50" y2="433.50" stroke="#37b54a" stroke-width="1.0"/>
<path d="M429.80,432.00 L433.20,432.00 M431.50,430.30 L431.50,433.70" stroke="#37b54a" stroke-width="1.3"/>
<line x1="439.40" y1="434.80" x2="439.40" y2="437.80" stroke="#d4163d" stroke-width="1.0"/>
<path d="M437.60,435.10 L441.20,435.10 L439.40,438.10 Z" fill="#d4163d"/>
<line x1="439.40" y1="439.50" x2="439.40" y2="443.10" stroke="#1c4f95" stroke-width="1.0"/>
<circle cx="439.4" cy="441.3" r="1.60" fill="#1c4f95"/>
<line x1="438.80" y1="446.20" x2="438.80" y2="449.20" stroke="#37b54a" stroke-width="1.0"/>
<path d="M437.10,447.70 L440.50,447.70 M438.80,446.00 L438.80,449.40" stroke="#37b54a" stroke-width="1.3"/>
<line x1="451.50" y1="454.20" x2="451.50" y2="458.20" stroke="#1c4f95" stroke-width="1.0"/>
<circle cx="451.5" cy="456.2" r="1.60" fill="#1c4f95"/>
<line x1="451.50" y1="460.80" x2="451.50" y2="463.80" stroke="#d4163d" stroke-width="1.0"/>
<path d="M449.70,461.10 L453.30,461.10 L451.50,464.10 Z" fill="#d4163d"/>
<line x1="450.80" y1="466.50" x2="450.80" y2="468.90" stroke="#37b54a" stroke-width="1.0"/>
<path d="M449.10,467.70 L452.50,467.70 M450.80,466.00 L450.80,469.40" stroke="#37b54a" stroke-width="1.3"/>
<line x1="466.20" y1="491.90" x2="466.20" y2="494.30" stroke="#37b54a" stroke-width="1.0"/>
<path d="M464.50,493.10 L467.90,493.10 M466.20,491.40 L466.20,494.80" stroke="#37b54a" stroke-width="1.3"/>
<line x1="477.70" y1="492.30" x2="477.70" y2="494.70" stroke="#37b54a" stroke-width="1.0"/>
<path d="M476.00,493.50 L479.40,493.50 M477.70,491.80 L477.70,495.20" stroke="#37b54a" stroke-width="1.3"/>
<line x1="459.40" y1="419.80" x2="466.10" y2="419.80" stroke="#1c4f95" stroke-width="1.3"/>
<circle cx="462.7" cy="419.8" r="1.36" fill="#1c4f95"/>
<text x="468.76" y="422.8" font-size="10" textLength="15.78" lengthAdjust="spacingAndGlyphs" stroke="#111" stroke-width="0.18">WT</text>
<line x1="459.40" y1="430.20" x2="466.10" y2="430.20" stroke="#d4163d" stroke-width="1.3"/>
<path d="M461.17,429.18 L464.23,429.18 L462.70,431.73 Z" fill="#d4163d"/>
<text x="467.43" y="433.6" font-size="10" textLength="44.26" lengthAdjust="spacingAndGlyphs" stroke="#111" stroke-width="0.18">OPT-1A-7</text>
<line x1="459.40" y1="441.00" x2="466.10" y2="441.00" stroke="#37b54a" stroke-width="1.3"/>
<path d="M461.25,441.00 L464.14,441.00 M462.70,439.56 L462.70,442.44" stroke="#37b54a" stroke-width="1.3"/>
<text x="467.43" y="444.3" font-size="10" textLength="44.20" lengthAdjust="spacingAndGlyphs" stroke="#111" stroke-width="0.18">OPT-2A-3</text>
<text transform="translate(329.9,500.65) rotate(-90)" font-size="12.5" textLength="83.04" lengthAdjust="spacingAndGlyphs" stroke="#111" stroke-width="0.35">FIX activity inhibition</text>
<text x="387.26" y="539.3" font-size="12.5" textLength="100.74" lengthAdjust="spacingAndGlyphs" stroke="#111" stroke-width="0.35">Inhibitory plasma dilution</text>
<text x="8.59" y="565.9" font-size="15.5" textLength="11.08" lengthAdjust="spacingAndGlyphs" font-weight="bold">F</text>
<line x1="86.60" y1="591.20" x2="86.60" y2="682.40" stroke="#000" stroke-width="1.45"/>
<line x1="82.30" y1="595.20" x2="86.60" y2="595.20" stroke="#000" stroke-width="1.45"/>
<text x="62.84" y="598.8" font-size="10" textLength="15.60" lengthAdjust="spacingAndGlyphs" stroke="#111" stroke-width="0.18">2.0</text>
<line x1="82.30" y1="616.83" x2="86.60" y2="616.83" stroke="#000" stroke-width="1.45"/>
<text x="62.53" y="620.43" font-size="10" textLength="15.96" lengthAdjust="spacingAndGlyphs" stroke="#111" stroke-width="0.18">1.5</text>
<line x1="82.30" y1="638.45" x2="86.60" y2="638.45" stroke="#000" stroke-width="1.45"/>
<text x="62.53" y="642.05" font-size="10" textLength="15.92" lengthAdjust="spacingAndGlyphs" stroke="#111" stroke-width="0.18">1.0</text>
<line x1="82.30" y1="660.08" x2="86.60" y2="660.08" stroke="#000" stroke-width="1.45"/>
<text x="62.96" y="663.68" font-size="10" textLength="15.50" lengthAdjust="spacingAndGlyphs" stroke="#111" stroke-width="0.18">0.5</text>
<line x1="82.30" y1="681.70" x2="86.60" y2="681.70" stroke="#000" stroke-width="1.45"/>
<text x="62.97" y="685.3" font-size="10" textLength="15.47" lengthAdjust="spacingAndGlyphs" stroke="#111" stroke-width="0.18">0.0</text>
<line x1="86.00" y1="681.80" x2="222.00" y2="681.80" stroke="#000" stroke-width="1.5"/>
<rect x="92.70" y="638.45" width="10.50" height="43.25" fill="#135386"/>
<rect x="103.20" y="630.58" width="10.70" height="51.12" fill="#c8152f"/>
<rect x="113.90" y="615.44" width="11.10" height="66.26" fill="#3db54f"/>
<line x1="108.55" y1="630.00" x2="108.55" y2="630.58" stroke="#000" stroke-width="1.15"/>
<line x1="105.75" y1="630.00" x2="111.35" y2="630.00" stroke="#000" stroke-width="1.3"/>
<line x1="119.45" y1="608.50" x2="119.45" y2="615.44" stroke="#000" stroke-width="1.15"/>
<line x1="116.65" y1="608.50" x2="122.25" y2="608.50" stroke="#000" stroke-width="1.3"/>
<line x1="108.85" y1="681.80" x2="108.85" y2="685.20" stroke="#000" stroke-width="1.45"/>
<rect x="138.10" y="638.45" width="10.70" height="43.25" fill="#135386"/>
<rect x="148.80" y="630.15" width="11.10" height="51.55" fill="#c8152f"/>
<rect x="159.90" y="622.62" width="10.60" height="59.08" fill="#3db54f"/>
<line x1="154.35" y1="628.90" x2="154.35" y2="630.15" stroke="#000" stroke-width="1.15"/>
<line x1="151.55" y1="628.90" x2="157.15" y2="628.90" stroke="#000" stroke-width="1.3"/>
<line x1="165.20" y1="613.80" x2="165.20" y2="622.62" stroke="#000" stroke-width="1.15"/>
<line x1="162.40" y1="613.80" x2="168.00" y2="613.80" stroke="#000" stroke-width="1.3"/>
<line x1="154.30" y1="681.80" x2="154.30" y2="685.20" stroke="#000" stroke-width="1.45"/>
<rect x="184.20" y="638.45" width="10.40" height="43.25" fill="#135386"/>
<rect x="194.60" y="633.22" width="10.80" height="48.48" fill="#c8152f"/>
<rect x="205.40" y="628.72" width="10.80" height="52.98" fill="#3db54f"/>
<line x1="200.00" y1="627.40" x2="200.00" y2="633.22" stroke="#000" stroke-width="1.15"/>
<line x1="197.20" y1="627.40" x2="202.80" y2="627.40" stroke="#000" stroke-width="1.3"/>
<line x1="210.80" y1="620.50" x2="210.80" y2="628.72" stroke="#000" stroke-width="1.15"/>
<line x1="208.00" y1="620.50" x2="213.60" y2="620.50" stroke="#000" stroke-width="1.3"/>
<line x1="200.20" y1="681.80" x2="200.20" y2="685.20" stroke="#000" stroke-width="1.45"/>
<rect x="180.00" y="583.80" width="9.70" height="4.20" fill="#135386"/>
<text x="193.75" y="589.2" font-size="10" textLength="16.18" lengthAdjust="spacingAndGlyphs" stroke="#111" stroke-width="0.18">WT</text>
<rect x="180.00" y="595.40" width="9.70" height="4.10" fill="#c8152f"/>
<text x="193.34" y="600.8" font-size="10" textLength="44.06" lengthAdjust="spacingAndGlyphs" stroke="#111" stroke-width="0.18">OPT-1A-7</text>
<rect x="180.00" y="606.70" width="9.70" height="4.30" fill="#3db54f"/>
<text x="193.34" y="612.3" font-size="10" textLength="43.99" lengthAdjust="spacingAndGlyphs" stroke="#111" stroke-width="0.18">OPT-2A-3</text>
<text x="76.76" y="698.6" font-size="10" textLength="63.12" lengthAdjust="spacingAndGlyphs" stroke="#111" stroke-width="0.18">Chromogenic</text>
<text x="144.06" y="698.7" font-size="10" textLength="21.28" lengthAdjust="spacingAndGlyphs" stroke="#111" stroke-width="0.18">TGT</text>
<text x="187.18" y="698.7" font-size="10" textLength="24.35" lengthAdjust="spacingAndGlyphs" stroke="#111" stroke-width="0.18">aPTT</text>
<text x="119.38" y="716.3" font-size="12.5" textLength="68.74" lengthAdjust="spacingAndGlyphs" stroke="#111" stroke-width="0.35">FIX activity assay</text>
<text transform="translate(42.9,672.03) rotate(-90)" font-size="12.5" textLength="62.05" lengthAdjust="spacingAndGlyphs" stroke="#111" stroke-width="0.35">Relative activity</text>
<text transform="translate(58.3,669.76) rotate(-90)" font-size="12.5" textLength="57.63" lengthAdjust="spacingAndGlyphs" stroke="#111" stroke-width="0.35">(fold over WT)</text>
<text x="286.73" y="565.9" font-size="15.5" textLength="12.79" lengthAdjust="spacingAndGlyphs" font-weight="bold">G</text>
<rect x="303.00" y="569.50" width="208.00" height="29.10" fill="#15538a"/>
<rect x="303.00" y="598.60" width="208.00" height="109.00" fill="#eef2f6"/>
<rect x="303.00" y="598.60" width="208.00" height="17.50" fill="#b8cad9"/>
<rect x="303.00" y="617.80" width="208.00" height="16.30" fill="#dae4ee"/>
<rect x="303.00" y="635.90" width="208.00" height="34.50" fill="#b8cad9"/>
<rect x="303.00" y="672.00" width="208.00" height="16.70" fill="#dae4ee"/>
<rect x="303.00" y="690.10" width="208.00" height="17.50" fill="#b8cad9"/>
<text x="341.14" y="581.6" font-size="9.6" textLength="131.74" lengthAdjust="spacingAndGlyphs" font-weight="bold" fill="#fff" stroke="#fff" stroke-width="0.25">Quantitation of pro-peptide and</text>
<text x="327.67" y="592.4" font-size="9.6" textLength="158.83" lengthAdjust="spacingAndGlyphs" font-weight="bold" fill="#fff" stroke="#fff" stroke-width="0.25">γ-carboxylation (GLA) on FIX molecule</text>
<text x="334.79" y="610.6" font-size="9.0" textLength="22.62" lengthAdjust="spacingAndGlyphs">PTMs</text>
<text x="398.76" y="610.6" font-size="9.0" textLength="13.95" lengthAdjust="spacingAndGlyphs">WT</text>
<text x="420.90" y="610.6" font-size="9.0" textLength="38.33" lengthAdjust="spacingAndGlyphs">OPT-1A-7</text>
<text x="467.10" y="610.6" font-size="9.0" textLength="38.28" lengthAdjust="spacingAndGlyphs">OPT-2A-3</text>
<text x="306.21" y="628.8" font-size="9.0" textLength="78.41" lengthAdjust="spacingAndGlyphs">Pro-peptide level (%)</text>
<text x="395.69" y="628.8" font-size="9.0" textLength="20.43" lengthAdjust="spacingAndGlyphs">4.8%</text>
<text x="430.36" y="628.8" font-size="9.0" textLength="19.95" lengthAdjust="spacingAndGlyphs">2.8%</text>
<text x="476.80" y="628.8" font-size="9.0" textLength="19.81" lengthAdjust="spacingAndGlyphs">4.3%</text>
<text x="319.37" y="644.8" font-size="9.0" textLength="54.35" lengthAdjust="spacingAndGlyphs">γ-carboxylation</text>
<text x="319.69" y="654.6" font-size="9.0" textLength="52.45" lengthAdjust="spacingAndGlyphs">(average Gla#</text>
<text x="324.86" y="665.2" font-size="9.0" textLength="43.17" lengthAdjust="spacingAndGlyphs">per protein)</text>
<text x="396.35" y="655.8" font-size="9.0" textLength="16.50" lengthAdjust="spacingAndGlyphs">10.5</text>
<text x="431.33" y="655.8" font-size="9.0" textLength="17.23" lengthAdjust="spacingAndGlyphs">10.4</text>
<text x="478.15" y="655.8" font-size="9.0" textLength="16.69" lengthAdjust="spacingAndGlyphs">11.0</text>
<text x="310.19" y="683.1" font-size="9.0" textLength="69.71" lengthAdjust="spacingAndGlyphs">K1K2(1−22), 6Gla</text>
<text x="398.44" y="683.2" font-size="9.0" textLength="12.45" lengthAdjust="spacingAndGlyphs">5.3</text>
<text x="433.64" y="683.2" font-size="9.0" textLength="12.56" lengthAdjust="spacingAndGlyphs">5.3</text>
<text x="481.66" y="683.2" font-size="9.0" textLength="11.89" lengthAdjust="spacingAndGlyphs">5.4</text>
<text x="314.09" y="701.8" font-size="9.0" textLength="64.11" lengthAdjust="spacingAndGlyphs">K3(23−43), 6Gla</text>
<text x="398.44" y="701.9" font-size="9.0" textLength="12.51" lengthAdjust="spacingAndGlyphs">5.2</text>
<text x="433.66" y="701.9" font-size="9.0" textLength="11.75" lengthAdjust="spacingAndGlyphs">5.1</text>
<text x="480.44" y="701.9" font-size="9.0" textLength="12.45" lengthAdjust="spacingAndGlyphs">5.6</text>
<rect x="0" y="0" width="520" height="1.5" fill="#000"/><rect x="0" y="724.5" width="520" height="1.5" fill="#000"/><rect x="0" y="0" width="1.5" height="726" fill="#000"/><rect x="518.5" y="0" width="1.5" height="726" fill="#000"/>
</svg>
</body></html>
